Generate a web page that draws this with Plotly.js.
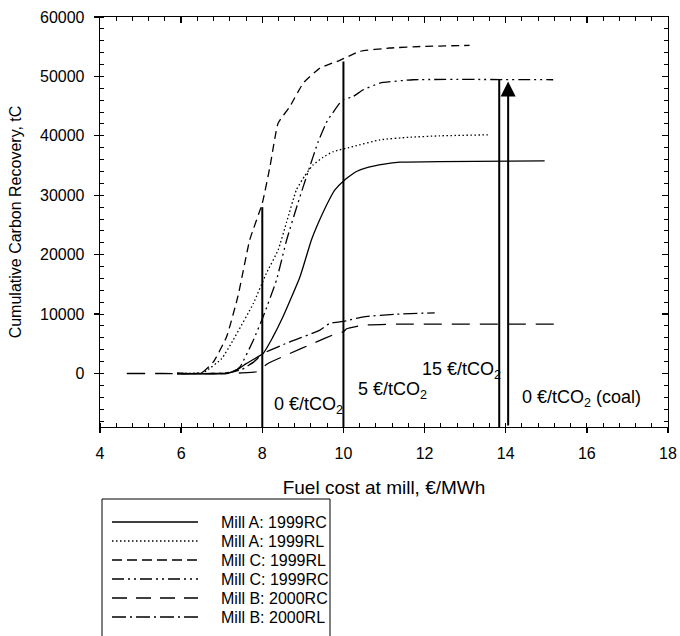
<!DOCTYPE html>
<html>
<head>
<meta charset="utf-8">
<script src="https://cdn.plot.ly/plotly-3.0.1.min.js"></script>
<style>html,body{margin:0;padding:0;background:#fff;}#chart{width:680px;height:636px;}</style>
</head>
<body>
<div id="chart"></div>
<script>
// ---- data ----
const seriesNames = ["Mill A: 1999RC", "Mill A: 1999RL", "Mill C: 1999RL", "Mill C: 1999RC", "Mill B: 2000RC", "Mill B: 2000RL"];

const millA_RC_x = [5.9, 7.12, 7.4, 7.61, 8.02, 8.25, 8.51, 8.93, 9.21, 9.34, 9.67, 9.79, 10.03, 10.32, 10.6, 11.0, 11.39, 12.37, 14.96];
const millA_RC_y = [0, 0, 700, 1700, 3370, 6000, 9540, 16290, 22470, 24710, 29500, 30900, 32580, 34000, 34700, 35250, 35560, 35670, 35780];

const millA_RL_x = [5.9, 6.55, 7.0, 7.28, 7.78, 8.1, 8.39, 8.6, 8.84, 9.05, 9.25, 9.5, 9.75, 10.24, 10.9, 11.6, 12.37, 13.56];
const millA_RL_y = [0, 200, 2500, 5600, 11800, 16860, 20780, 25500, 30900, 33300, 35100, 36400, 37350, 38200, 39330, 39750, 40000, 40170];

const millC_RL_x = [5.9, 6.5, 6.8, 7.12, 7.4, 7.69, 8.0, 8.19, 8.39, 8.68, 9.01, 9.42, 9.91, 10.4, 11.14, 11.96, 13.11];
const millC_RL_y = [0, 100, 2000, 6170, 13000, 22470, 28650, 34830, 42130, 44940, 48880, 51400, 52700, 54200, 54780, 55050, 55220];

const millC_RC_x = [5.9, 7.0, 7.3, 7.45, 7.78, 8.02, 8.35, 8.6, 8.87, 9.13, 9.38, 9.6, 9.91, 10.0, 10.24, 10.49, 10.9, 11.72, 15.17];
const millC_RC_y = [0, 0, 400, 1100, 5600, 9540, 15730, 22470, 28500, 33980, 39040, 42500, 45500, 46060, 46620, 47750, 48880, 49440, 49440];

const millB_RC_x = [4.66, 5.5, 6.5, 7.5, 7.86, 7.98, 8.0, 8.14, 8.68, 9.25, 9.83, 10.0, 10.07, 10.49, 11.31, 15.41];
const millB_RC_y = [0, 0, 0, 100, 300, 900, 1000, 1690, 3370, 5060, 6740, 7010, 7500, 8140, 8310, 8310];

const millB_RL_x = [5.9, 6.8, 7.2, 7.5, 7.8, 8.02, 8.68, 9.42, 9.66, 10.07, 10.49, 11.31, 12.25];
const millB_RL_y = [0, 0, 150, 700, 2000, 3370, 5330, 7300, 8430, 8870, 9540, 9990, 10210];

// carbon-price marker lines: fuel cost and the recovery at which each stops
const priceLineX   = [8, 10, 13.84];
const priceLineTop = [28000, 52500, 49440];
const coalArrowX   = 14.06;
const coalArrowTop = 49150;

const priceLabels  = ["0 €/tCO<sub>2</sub>", "5 €/tCO<sub>2</sub>", "15 €/tCO<sub>2</sub>", "0 €/tCO<sub>2</sub> (coal)"];
const priceLabelX  = [8.23, 10.3, 11.88, 14.34];
const priceLabelY  = [-5340, -2800, 440, -4170];

// ---- styling / layout ----
const FONT = 'Liberation Sans, Arial, sans-serif';
const W = 680, H = 636, ML = 100, MR = 12, MT = 17, MB = 209;
const PW = W - ML - MR, PH = H - MT - MB;
const px2x = p => (p - ML) / PW;          // pixel -> paper x
const py2y = p => (H - MB - p) / PH;      // pixel -> paper y

const dashes = ["solid", "1.5px,2.5px", "8px,5px", "12px,4px,2px,4px,2px,4px", "18px,10px", "14px,4px,2px,4px"];
const legendDashes = ["solid", "1.5px,2.5px", "10px,5px", "12px,4px,2px,4px,2px,4px", "15px,9px", "14px,4px,2px,4px"];
const xs = [millA_RC_x, millA_RL_x, millC_RL_x, millC_RC_x, millB_RC_x, millB_RL_x];
const ys = [millA_RC_y, millA_RL_y, millC_RL_y, millC_RC_y, millB_RC_y, millB_RL_y];

const traces = seriesNames.map((n, i) => ({
  x: xs[i], y: ys[i], name: n, type: 'scatter', mode: 'lines',
  line: {color: '#000', width: 1.3, dash: dashes[i], shape: 'spline', smoothing: 0.4},
  hoverinfo: 'skip', showlegend: false
}));

const shapes = priceLineX.map((x, i) => ({
  type: 'line', xref: 'x', yref: 'y', x0: x, x1: x, y0: -9000, y1: priceLineTop[i],
  line: {color: '#000', width: 2}, layer: 'above'
}));

// legend frame (open at the bottom, as the reference is cut there)
const LX0 = 102, LX1 = 330, LY0 = 499;
shapes.push({type: 'path', xref: 'paper', yref: 'paper',
  path: `M ${px2x(LX0)},${py2y(H + 10)} L ${px2x(LX0)},${py2y(LY0)} L ${px2x(LX1)},${py2y(LY0)} L ${px2x(LX1)},${py2y(H + 10)}`,
  line: {color: '#000', width: 1}});

const annotations = priceLabels.map((t, i) => ({
  x: priceLabelX[i], y: priceLabelY[i], xref: 'x', yref: 'y', text: t,
  showarrow: false, xanchor: 'left', yanchor: 'middle',
  font: {family: FONT, size: 18, color: '#000'}
}));
annotations.push({
  x: coalArrowX, y: coalArrowTop, ax: coalArrowX, ay: -9000, xref: 'x', yref: 'y', axref: 'x', ayref: 'y',
  text: '', showarrow: true, arrowhead: 2, arrowsize: 1.5, arrowwidth: 2, arrowcolor: '#000', standoff: 0
});

// legend entries (sample line + label), built from the series names and dash styles
seriesNames.forEach((n, i) => {
  const rowY = 522 + i * 19;
  shapes.push({type: 'line', xref: 'paper', yref: 'paper',
    x0: px2x(112), x1: px2x(198), y0: py2y(rowY), y1: py2y(rowY),
    line: {color: '#000', width: 1.3, dash: legendDashes[i]}});
  annotations.push({x: px2x(219), y: py2y(rowY), xref: 'paper', yref: 'paper', text: n,
    showarrow: false, xanchor: 'left', yanchor: 'middle',
    font: {family: FONT, size: 16, color: '#000'}});
});

const layout = {
  width: W, height: H,
  margin: {l: ML, r: MR, t: MT, b: MB, autoexpand: false},
  paper_bgcolor: '#fff', plot_bgcolor: '#fff',
  font: {family: FONT, size: 16, color: '#000'},
  showlegend: false,
  xaxis: {
    range: [4, 18], dtick: 2, tick0: 4, showgrid: false, zeroline: false,
    showline: true, linecolor: '#000', linewidth: 1.3, mirror: true,
    ticks: 'outside', ticklen: 5, tickwidth: 1.3, tickcolor: '#000', ticklabelstandoff: 6,
    minor: {dtick: 0.4, ticks: 'inside', ticklen: 4, tickwidth: 1, tickcolor: '#000', showgrid: false},
    title: {text: 'Fuel cost at mill, €/MWh', standoff: 20, font: {family: FONT, size: 19}},
    tickfont: {family: FONT, size: 16}
  },
  yaxis: {
    range: [-9000, 60000], dtick: 10000, tick0: 0, tickformat: 'd', showgrid: false, zeroline: false,
    showline: true, linecolor: '#000', linewidth: 1.3, mirror: true,
    ticks: 'outside', ticklen: 5, tickwidth: 1.3, tickcolor: '#000', ticklabelstandoff: 6,
    minor: {dtick: 2000, ticks: 'inside', ticklen: 4, tickwidth: 1, tickcolor: '#000', showgrid: false},
    title: {text: 'Cumulative Carbon Recovery, tC', standoff: 14, font: {family: FONT, size: 16}},
    tickfont: {family: FONT, size: 16}
  },
  xaxis2: {
    overlaying: 'x', side: 'top', range: [4, 18], dtick: 2, tick0: 4,
    showticklabels: false, showgrid: false, zeroline: false, showline: false,
    ticks: 'inside', ticklen: 6, tickwidth: 1.3, tickcolor: '#000',
    minor: {dtick: 0.4, ticks: 'inside', ticklen: 4, tickwidth: 1, tickcolor: '#000', showgrid: false}
  },
  yaxis2: {
    overlaying: 'y', side: 'right', range: [-9000, 60000], dtick: 10000, tick0: 0,
    showticklabels: false, showgrid: false, zeroline: false, showline: false,
    ticks: 'inside', ticklen: 6, tickwidth: 1.3, tickcolor: '#000',
    minor: {dtick: 2000, ticks: 'inside', ticklen: 4, tickwidth: 1, tickcolor: '#000', showgrid: false}
  },
  shapes: shapes,
  annotations: annotations
};

// invisible helper trace to bring in the mirrored top/right tick axes
traces.push({x: [4], y: [0], xaxis: 'x2', yaxis: 'y2', mode: 'markers', marker: {opacity: 0},
             showlegend: false, hoverinfo: 'skip'});

Plotly.newPlot('chart', traces, layout, {staticPlot: true});
</script>
</body>
</html>
